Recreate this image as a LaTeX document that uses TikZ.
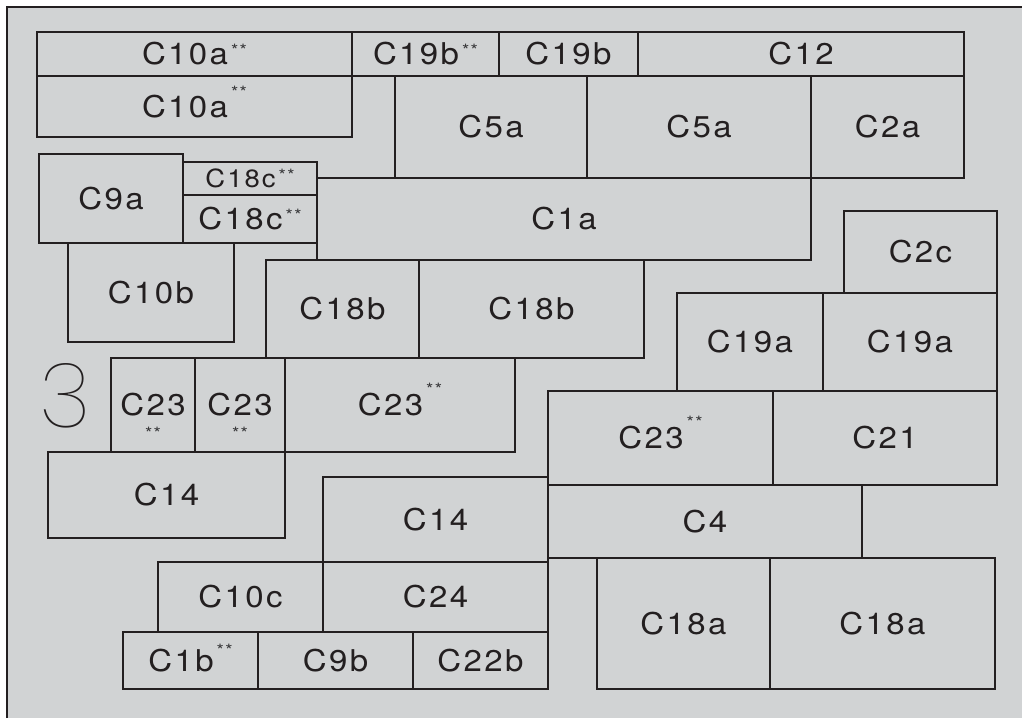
\documentclass[tikz,border=0pt]{standalone}
\usepackage{fontspec}
\setmainfont{TeX Gyre Heros}[FakeStretch=1.1,LetterSpace=8]
\IfFontExistsTF{Poppins Thin}{\newfontfamily\numfont{Poppins Thin}}{\newfontfamily\numfont{Poppins}}
\definecolor{pgray}{HTML}{D1D3D4}
\definecolor{pdark}{HTML}{231F20}
\definecolor{pstar}{HTML}{3A3A3C}
\newcommand\stup[1][8pt]{\kern3pt\raisebox{#1}[0pt][0pt]{\fontsize{17}{17}\selectfont\color{pstar}**}}
\newcommand\stdown[1]{\setbox0\hbox{#1}\copy0\llap{\hbox to \wd0{\hss\raisebox{-24pt}[0pt][0pt]{\fontsize{17}{17}\selectfont\color{pstar}**}\hss}}}
\tikzset{
  cell/.style={draw=pdark,line width=2pt,inner sep=0pt,outer sep=0pt,anchor=north west,text=pdark,font=\fontsize{30}{32}\selectfont},
  smallcell/.style={cell,font=\fontsize{25}{27}\selectfont},
  frame/.style={draw=pdark,line width=2pt},
  pnum/.style={text=pdark,inner sep=0pt,font=\numfont\fontsize{90}{90}\selectfont},
}
\begin{document}
\begin{tikzpicture}[x=1pt,y=-1pt]
  \useasboundingbox (0,0) rectangle (1022,718);
  \fill[pgray] (7,7) rectangle (1022,718);
  \draw[frame] (7,718) -- (7,7) -- (1022,7);
  \node[pnum] (pg) at (65,396) {3};
  \node[cell,minimum width=315,minimum height=44] (c10a) at (37,32) {C10a\stup};
  \node[cell,minimum width=147,minimum height=44] (c19bs) at (352,32) {C19b\stup};
  \node[cell,minimum width=139,minimum height=44] (c19b) at (499,32) {C19b};
  \node[cell,minimum width=326,minimum height=44] (c12) at (638,32) {C12};
  \node[cell,minimum width=315,minimum height=61] (c10aa) at (37,76) {C10a\stup[19pt]};
  \node[cell,minimum width=192,minimum height=102] (c5a) at (395,76) {C5a};
  \node[cell,minimum width=224,minimum height=102] (c5aa) at (587,76) {C5a};
  \node[cell,minimum width=153,minimum height=102] (c2a) at (811,76) {C2a};
  \node[cell,minimum width=144,minimum height=89] (c9a) at (39,154) {C9a};
  \node[smallcell,minimum width=134,minimum height=33] (c18c) at (183,162) {C18c\stup[6pt]};
  \node[cell,minimum width=134,minimum height=48] (c18cc) at (183,195) {C18c\stup};
  \node[cell,minimum width=494,minimum height=82] (c1a) at (317,178) {C1a};
  \node[cell,minimum width=166,minimum height=99] (c10b) at (68,243) {C10b};
  \node[cell,minimum width=153,minimum height=98] (c18b) at (266,260) {C18b};
  \node[cell,minimum width=225,minimum height=98] (c18bb) at (419,260) {C18b};
  \node[cell,minimum width=153,minimum height=82] (c2c) at (844,211) {C2c};
  \node[cell,minimum width=146,minimum height=98] (c19a) at (677,293) {C19a};
  \node[cell,minimum width=174,minimum height=98] (c19aa) at (823,293) {C19a};
  \node[cell,minimum width=84,minimum height=94] (c23) at (111,358) {\stdown{C23}};
  \node[cell,minimum width=90,minimum height=94] (c23b) at (195,358) {\stdown{C23}};
  \node[cell,minimum width=230,minimum height=94] (c23c) at (285,358) {C23\stup[20pt]};
  \node[cell,minimum width=237,minimum height=86] (c14) at (48,452) {C14};
  \node[cell,minimum width=225,minimum height=94] (c23d) at (548,391) {C23\stup[20pt]};
  \node[cell,minimum width=224,minimum height=94] (c21) at (773,391) {C21};
  \node[cell,minimum width=314,minimum height=73] (c4) at (548,485) {C4};
  \node[cell,minimum width=225,minimum height=85] (c14b) at (323,477) {C14};
  \node[cell,minimum width=165,minimum height=70] (c10c) at (158,562) {C10c};
  \node[cell,minimum width=225,minimum height=70] (c24) at (323,562) {C24};
  \node[cell,minimum width=135,minimum height=57] (c1b) at (123,632) {C1b\stup[15pt]};
  \node[cell,minimum width=155,minimum height=57] (c9b) at (258,632) {C9b};
  \node[cell,minimum width=135,minimum height=57] (c22b) at (413,632) {C22b};
  \node[cell,minimum width=173,minimum height=131] (c18a) at (597,558) {C18a};
  \node[cell,minimum width=225,minimum height=131] (c18aa) at (770,558) {C18a};
\end{tikzpicture}
\end{document}
